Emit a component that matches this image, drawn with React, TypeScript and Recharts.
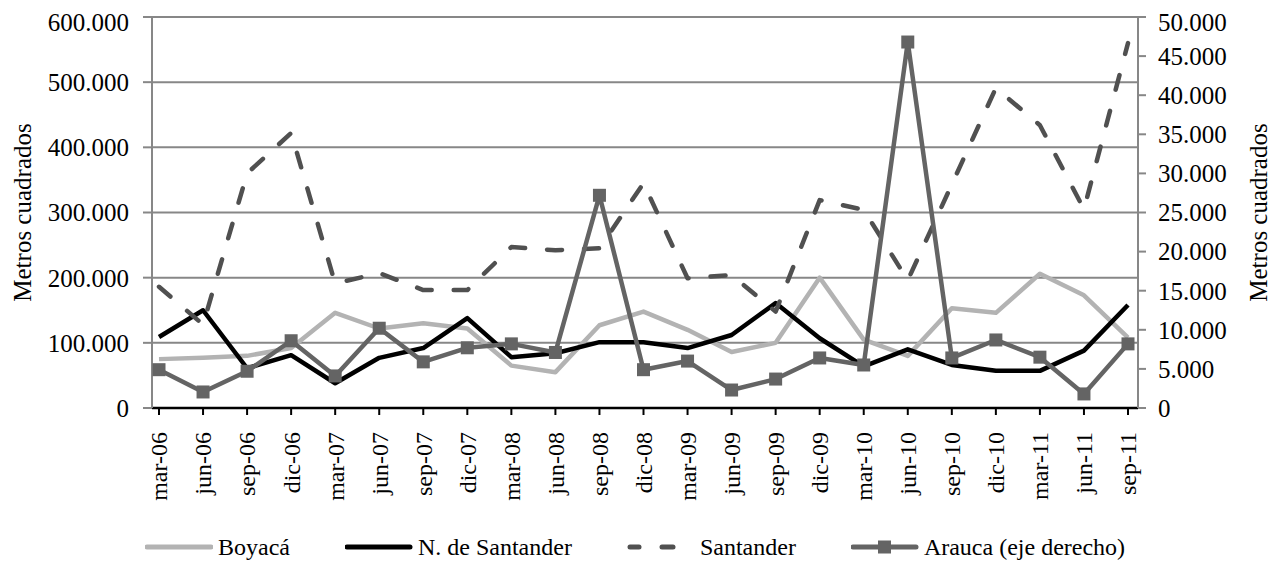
import React from "react"
import { LineChart, Line, XAxis, YAxis, CartesianGrid, Legend } from "recharts"

const categories = [
  "mar-06", "jun-06", "sep-06", "dic-06", "mar-07", "jun-07", "sep-07", "dic-07",
  "mar-08", "jun-08", "sep-08", "dic-08", "mar-09", "jun-09", "sep-09", "dic-09",
  "mar-10", "jun-10", "sep-10", "dic-10", "mar-11", "jun-11", "sep-11",
]

const boyaca = [
  75000, 77000, 80000, 92000, 146000, 122000, 130000, 122000, 65000, 55000, 127000, 148000,
  120000, 86000, 100000, 200000, 105000, 80000, 153000, 146000, 206000, 173000, 108000,
]

const nSantander = [
  109000, 150000, 61000, 81000, 38000, 77000, 92000, 138000, 78000, 84000, 101000, 101000,
  92000, 112000, 161000, 107000, 64000, 90000, 66000, 57000, 57000, 88000, 158000,
]

const santander = [
  186000, 128000, 360000, 422000, 191000, 207000, 181000, 181000, 247000, 242000, 245000, 345000,
  199000, 204000, 148000, 319000, 304000, 196000, 343000, 491000, 434000, 305000, 560000,
]

const arauca = [
  4900, 2050, 4700, 8600, 4100, 10200, 5900, 7700, 8200, 7100, 27200, 4900,
  6000, 2300, 3700, 6400, 5500, 46800, 6400, 8700, 6500, 1800, 8200,
]

const leftTicks = [0, 100000, 200000, 300000, 400000, 500000, 600000]
const rightTicks = [0, 5000, 10000, 15000, 20000, 25000, 30000, 35000, 40000, 45000, 50000]

const data = categories.map((periodo, i) => ({
  periodo,
  boyaca: boyaca[i],
  nSantander: nSantander[i],
  santander: santander[i],
  arauca: arauca[i],
}))

const FONT = "'Times New Roman', Tinos, 'Liberation Serif', 'Nimbus Roman', FreeSerif, 'Noto Serif', 'DejaVu Serif', Times, serif"
const GRID = "#878787"
const C_BOYACA = "#b3b3b3"
const C_NSANT = "#000000"
const C_SANT = "#505050"
const C_ARAUCA = "#646464"

// 600000 -> "600.000"
const fmt = (v: number) => String(v).replace(/\B(?=(\d{3})+(?!\d))/g, ".")

const XTick = (props: any) => {
  const { x, y, payload } = props
  return (
    <g transform={`translate(${x},${y})`}>
      <text x={0} y={0} dy="0.35em" textAnchor="end" transform="rotate(-90)" style={{ fontFamily: FONT }} fontSize={24} fill="#000">
        {payload.value}
      </text>
    </g>
  )
}

const axisTitle = (offsetX: number) => (props: any) => {
  const { viewBox } = props
  const cx = viewBox.x + offsetX
  const cy = viewBox.y + viewBox.height / 2
  return (
    <text
      x={cx}
      y={cy}
      transform={`rotate(-90 ${cx} ${cy})`}
      textAnchor="middle"
      dominantBaseline="central"
      style={{ fontFamily: FONT }}
      fontSize={25}
      fill="#000"
    >
      Metros cuadrados
    </text>
  )
}

const ArauDot = (p: any) => {
  if (p.cx == null || p.cy == null) return <g key={p.index} />
  return <rect key={p.index} x={p.cx - 6.5} y={p.cy - 6.5} width={13} height={13} fill={C_ARAUCA} />
}

const legendItems = [
  { label: "Boyacá", kind: "boyaca" },
  { label: "N. de Santander", kind: "nsant" },
  { label: "Santander", kind: "sant" },
  { label: "Arauca (eje derecho)", kind: "arauca" },
]

const LegendIcon = ({ kind }: { kind: string }) => (
  <svg width={68} height={16} style={{ display: "block" }}>
    {kind === "boyaca" && <line x1={2} y1={8} x2={66} y2={8} stroke={C_BOYACA} strokeWidth={5} strokeLinecap="round" />}
    {kind === "nsant" && <line x1={2} y1={8} x2={65} y2={8} stroke={C_NSANT} strokeWidth={5} strokeLinecap="round" />}
    {kind === "sant" && (
      <g stroke={C_SANT} strokeWidth={5} strokeLinecap="round">
        <line x1={3} y1={8} x2={12} y2={8} />
        <line x1={35} y1={8} x2={46} y2={8} />
      </g>
    )}
    {kind === "arauca" && (
      <g>
        <line x1={2} y1={8} x2={65} y2={8} stroke={C_ARAUCA} strokeWidth={5} strokeLinecap="round" />
        <rect x={27} y={1.5} width={13} height={13} fill={C_ARAUCA} />
      </g>
    )}
  </svg>
)

const LegendBox = () => (
  <div style={{ display: "flex", alignItems: "center", paddingLeft: 137, paddingTop: 8, fontFamily: FONT, fontSize: 24, color: "#000" }}>
    {legendItems.map((it) => (
      <div key={it.kind} style={{ display: "flex", alignItems: "center", marginRight: 55 }}>
        <LegendIcon kind={it.kind} />
        <span style={{ marginLeft: 5, lineHeight: "24px" }}>{it.label}</span>
      </div>
    ))}
  </div>
)

const tickStyle = { fill: "#000", fontSize: 25, style: { fontFamily: FONT } }

export default function App() {
  return (
    <div style={{ fontFamily: FONT }}>
      <LineChart width={1270} height={569} data={data} margin={{ top: 9, right: 0, bottom: 0, left: 0 }} style={{ fontFamily: FONT }}>
        <CartesianGrid yAxisId="left" vertical={false} stroke={GRID} strokeWidth={2} />
        <XAxis
          dataKey="periodo"
          interval={0}
          padding={{ left: 7, right: 10 }}
          height={119}
          tickSize={7}
          tickMargin={17}
          tick={<XTick />}
          axisLine={{ stroke: "#000", strokeWidth: 2.5 }}
          tickLine={{ stroke: "#000", strokeWidth: 2 }}
        />
        <YAxis
          yAxisId="left"
          width={144}
          domain={[0, 600000]}
          ticks={leftTicks}
          tickFormatter={fmt}
          tickSize={9}
          tickMargin={14}
          tick={tickStyle}
          axisLine={{ stroke: GRID, strokeWidth: 2 }}
          tickLine={{ stroke: GRID, strokeWidth: 2 }}
          label={{ content: axisTitle(14) }}
        />
        <YAxis
          yAxisId="right"
          orientation="right"
          width={140}
          domain={[0, 50000]}
          ticks={rightTicks}
          tickFormatter={fmt}
          tickSize={8}
          tickMargin={12}
          tick={tickStyle}
          axisLine={{ stroke: GRID, strokeWidth: 2 }}
          tickLine={{ stroke: GRID, strokeWidth: 2 }}
          label={{ content: axisTitle(120) }}
        />
        <Legend verticalAlign="bottom" height={50} wrapperStyle={{ left: 0, width: 1270 }} content={<LegendBox />} />
        <Line yAxisId="left" type="linear" dataKey="boyaca" name="Boyacá" stroke={C_BOYACA} strokeWidth={4.5} strokeLinejoin="round" dot={false} isAnimationActive={false} />
        <Line yAxisId="left" type="linear" dataKey="nSantander" name="N. de Santander" stroke={C_NSANT} strokeWidth={4.5} strokeLinejoin="round" dot={false} isAnimationActive={false} />
        <Line yAxisId="left" type="linear" dataKey="santander" name="Santander" stroke={C_SANT} strokeWidth={4.5} strokeDasharray="15 22" strokeLinecap="round" strokeLinejoin="round" dot={false} isAnimationActive={false} />
        <Line yAxisId="right" type="linear" dataKey="arauca" name="Arauca (eje derecho)" stroke={C_ARAUCA} strokeWidth={4.5} strokeLinejoin="round" dot={<ArauDot />} isAnimationActive={false} />
      </LineChart>
    </div>
  )
}
